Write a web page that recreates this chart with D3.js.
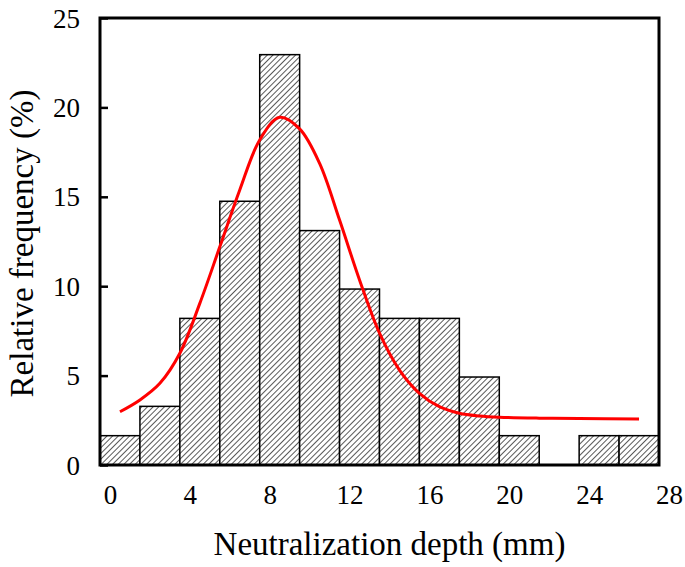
<!DOCTYPE html>
<html>
<head>
<meta charset="utf-8">
<script src="https://cdn.jsdelivr.net/npm/d3@7"></script>
<style>
  body { margin: 0; background: #fff; }
  svg { display: block; font-family: "Liberation Serif", "Times New Roman", serif; }
</style>
</head>
<body>
<div id="chart"></div>
<script>
// histogram bins (left edge, mm) and relative frequency (%)
var binStart = [0, 2, 4, 6, 8, 10, 12, 14, 16, 18, 20, 22, 24, 26];
var binWidth = 2;
var freq = [1.64, 3.28, 8.20, 14.75, 22.95, 13.11, 9.84, 8.20, 8.20, 4.92, 1.64, 0, 1.64, 1.64];

// fitted curve
var fitX = [1, 2, 3, 4, 5, 6, 7, 8, 9, 10, 11, 12, 13, 14, 15, 16, 17, 18, 19, 20, 22, 24, 27];
var fitY = [2.98, 3.64, 4.57, 6.25, 9.04, 12.2, 15.38, 18.18, 19.45, 18.8, 16.87, 13.7, 10.35, 7.37, 5.31, 4.01, 3.26, 2.89, 2.74, 2.67, 2.62, 2.6, 2.57];

var xTicks = [0, 4, 8, 12, 16, 20, 24, 28];
var yTicks = [0, 5, 10, 15, 20, 25];

// set svg dimensions and margins
var W = 685, H = 567;
var margin = {top: 18, right: 26, bottom: 102, left: 100};
var width = W - margin.left - margin.right;
var height = H - margin.top - margin.bottom;
var serif = '"Liberation Serif", "Times New Roman", serif';

var svg = d3.select("#chart").append("svg")
  .attr("width", W)
  .attr("height", H);

// hatch pattern for the bars
var defs = svg.append("defs");
var pat = defs.append("pattern")
  .attr("id", "hatch")
  .attr("patternUnits", "userSpaceOnUse")
  .attr("width", 4)
  .attr("height", 4)
  .attr("patternTransform", "rotate(45)");
pat.append("rect").attr("width", 4).attr("height", 4).attr("fill", "#fff");
pat.append("line")
  .attr("x1", 0).attr("y1", 0)
  .attr("x2", 0).attr("y2", 4)
  .attr("stroke", "#111")
  .attr("stroke-width", 1.4);

var g = svg.append("g")
  .attr("transform", "translate(" + margin.left + "," + margin.top + ")");

var x = d3.scaleLinear().domain([0, 28]).range([0, width]);
var y = d3.scaleLinear().domain([0, 25]).range([height, 0]);

// bars
g.selectAll("rect.bar")
  .data(freq.map(function(d, i) { return {x0: binStart[i], v: d}; }))
  .enter()
  .append("rect")
  .attr("class", "bar")
  .attr("x", function(d) { return x(d.x0); })
  .attr("y", function(d) { return y(d.v); })
  .attr("width", function(d) { return x(d.x0 + binWidth) - x(d.x0); })
  .attr("height", function(d) { return y(0) - y(d.v); })
  .attr("fill", "url(#hatch)")
  .attr("stroke", "#000")
  .attr("stroke-width", 1.5)
  .style("display", function(d) { return d.v > 0 ? null : "none"; });

// fitted curve
var line = d3.line()
  .x(function(d) { return x(d[0]); })
  .y(function(d) { return y(d[1]); })
  .curve(d3.curveCatmullRom);
g.append("path")
  .datum(fitX.map(function(d, i) { return [d, fitY[i]]; }))
  .attr("d", line)
  .attr("fill", "none")
  .attr("stroke", "#ff0000")
  .attr("stroke-width", 3);

// y axis, ticks inward
var yAxis = g.append("g")
  .call(d3.axisLeft(y).tickValues(yTicks).tickSizeInner(-8).tickSizeOuter(0).tickPadding(20))
  .attr("font-family", serif);
yAxis.select(".domain").remove();
yAxis.selectAll(".tick line").attr("stroke", "#000").attr("stroke-width", 2.5);
yAxis.selectAll("text").style("font-size", "27px").attr("fill", "#000")
  .attr("dy", "0.34em");

// x axis labels (no tick marks)
var xAxis = g.append("g")
  .attr("transform", "translate(0," + height + ")")
  .call(d3.axisBottom(x).tickValues(xTicks).tickSize(0).tickPadding(20))
  .attr("font-family", serif);
xAxis.select(".domain").remove();
xAxis.selectAll("text").style("font-size", "27px").attr("fill", "#000")
  .attr("dx", 10);

// frame
g.append("rect")
  .attr("x", 0).attr("y", 0)
  .attr("width", width).attr("height", height)
  .attr("fill", "none")
  .attr("stroke", "#000")
  .attr("stroke-width", 3);

// axis titles
svg.append("text")
  .attr("x", margin.left + width / 2 + 10)
  .attr("y", 555)
  .attr("text-anchor", "middle")
  .style("font-size", "33px")
  .text("Neutralization depth (mm)");

svg.append("text")
  .attr("transform", "translate(33," + (margin.top + height / 2 + 2) + ") rotate(-90)")
  .attr("text-anchor", "middle")
  .style("font-size", "33px")
  .text("Relative frequency (%)");
</script>
</body>
</html>
